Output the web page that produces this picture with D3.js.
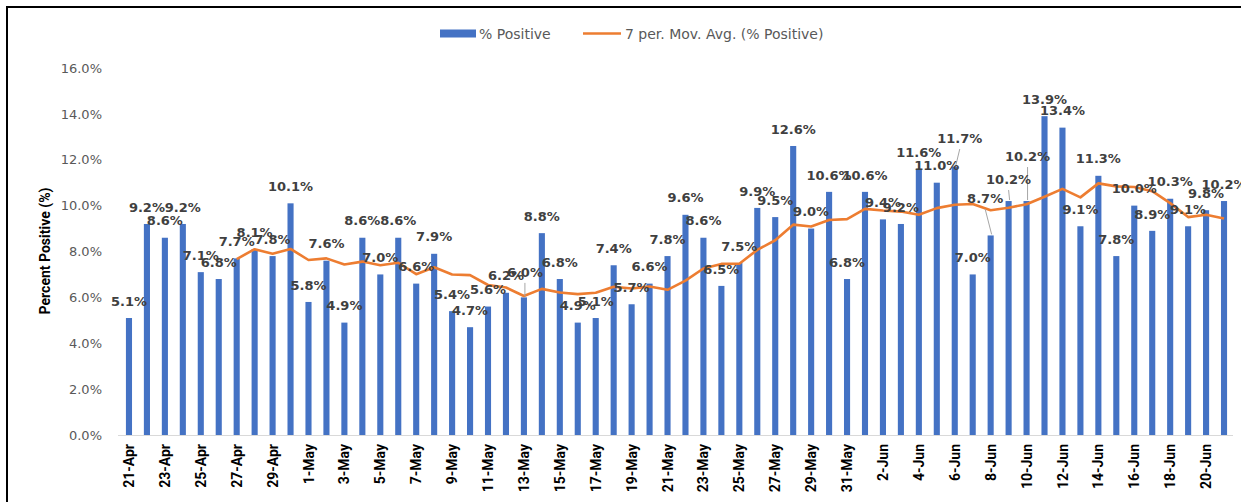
<!doctype html>
<html>
  <head>
    <meta charset="utf-8">
    <title>Percent Positive</title>
    <script src="https://cdnjs.cloudflare.com/ajax/libs/d3/7.8.5/d3.min.js"></script>
    <style>
      body { margin: 0; background: #fff; }
      svg { display: block; }
    </style>
  </head>
  <body>
    <div id="chart"></div>
    <script>
      // categories: one bar per day, 21-Apr to 21-Jun
      const dates = [
        '21-Apr','22-Apr','23-Apr','24-Apr','25-Apr','26-Apr','27-Apr','28-Apr','29-Apr','30-Apr',
        '1-May','2-May','3-May','4-May','5-May','6-May','7-May','8-May','9-May','10-May',
        '11-May','12-May','13-May','14-May','15-May','16-May','17-May','18-May','19-May','20-May',
        '21-May','22-May','23-May','24-May','25-May','26-May','27-May','28-May','29-May','30-May','31-May',
        '1-Jun','2-Jun','3-Jun','4-Jun','5-Jun','6-Jun','7-Jun','8-Jun','9-Jun','10-Jun',
        '11-Jun','12-Jun','13-Jun','14-Jun','15-Jun','16-Jun','17-Jun','18-Jun','19-Jun','20-Jun','21-Jun'
      ];

      // % positive
      const pctPositive = [
        5.1, 9.2, 8.6, 9.2, 7.1, 6.8, 7.7, 8.1, 7.8, 10.1,
        5.8, 7.6, 4.9, 8.6, 7.0, 8.6, 6.6, 7.9, 5.4, 4.7,
        5.6, 6.2, 6.0, 8.8, 6.8, 4.9, 5.1, 7.4, 5.7, 6.6,
        7.8, 9.6, 8.6, 6.5, 7.5, 9.9, 9.5, 12.6, 9.0, 10.6, 6.8,
        10.6, 9.4, 9.2, 11.6, 11.0, 11.7, 7.0, 8.7, 10.2, 10.2,
        13.9, 13.4, 9.1, 11.3, 7.8, 10.0, 8.9, 10.3, 9.1, 9.8, 10.2
      ];

      // 7 per. moving average (starts on 27-Apr)
      const movAvg = [
        null, null, null, null, null, null, 7.67, 8.10, 7.90, 8.11,
        7.63, 7.70, 7.43, 7.56, 7.40, 7.51, 7.01, 7.31, 7.00, 6.97,
        6.54, 6.43, 6.06, 6.37, 6.21, 6.14, 6.20, 6.46, 6.39, 6.47,
        6.33, 6.73, 7.26, 7.46, 7.47, 8.07, 8.49, 9.17, 9.09, 9.37, 9.41,
        9.86, 9.79, 9.74, 9.60, 9.89, 10.04, 10.07, 9.80, 9.91, 10.06,
        10.39, 10.73, 10.36, 10.97, 10.84, 10.81, 10.63, 10.11, 9.50, 9.60, 9.44
      ];

      const yTicks = [0, 2, 4, 6, 8, 10, 12, 14, 16];
      const seriesNames = ['% Positive', '7 per. Mov. Avg. (% Positive)'];

      const width = 1241, height = 502;
      const barColor = '#4472C4', lineColor = '#ED7D31';

      const svg = d3.select('#chart')
        .append('svg')
        .attr('width', width)
        .attr('height', height);

      // outer frame (runs off the right and bottom edges)
      svg.append('rect')
        .attr('x', 7).attr('y', 7)
        .attr('width', 1300).attr('height', 600)
        .attr('fill', '#fff')
        .attr('stroke', '#000')
        .attr('stroke-width', 2);

      const x = d3.scaleBand()
        .domain(dates)
        .range([120, 1233])
        .paddingInner(0.66)
        .paddingOuter(0.33);

      const y = d3.scaleLinear()
        .domain([0, 16])
        .range([435, 68]);

      const cx = d => x(d) + x.bandwidth() / 2;

      // y axis
      const yAxis = svg.append('g')
        .attr('transform', 'translate(102,0)')
        .call(d3.axisLeft(y).tickValues(yTicks).tickSize(0).tickPadding(0)
          .tickFormat(d => d.toFixed(1) + '%'));
      yAxis.select('.domain').remove();
      yAxis.selectAll('text')
        .attr('fill', '#595959')
        .style('font-family', 'DejaVu Sans, sans-serif')
        .style('font-size', '13px');

      svg.append('text')
        .attr('transform', 'translate(50,251) rotate(-90)')
        .attr('text-anchor', 'middle')
        .style('font-family', 'Roboto, sans-serif')
        .style('font-weight', 'bold')
        .style('font-size', '14px')
        .attr('fill', '#000')
        .text('Percent Positive (%)');

      // bars
      svg.append('g')
        .selectAll('rect')
        .data(pctPositive)
        .join('rect')
        .attr('x', (d, i) => x(dates[i]))
        .attr('y', d => y(d))
        .attr('width', x.bandwidth())
        .attr('height', d => y(0) - y(d))
        .attr('fill', barColor);

      // x axis
      const xAxis = svg.append('g')
        .attr('transform', `translate(0,${y(0)})`)
        .call(d3.axisBottom(x)
          .tickValues(dates.filter((d, i) => i % 2 === 0))
          .tickSize(0)
          .tickSizeOuter(0));
      xAxis.select('.domain')
        .attr('stroke', '#D9D9D9')
        .attr('stroke-width', 1.2)
        .attr('d', 'M118,0.5H1233');
      xAxis.selectAll('text')
        .attr('transform', 'rotate(-90)')
        .attr('x', -9)
        .attr('y', 0)
        .attr('dy', '0.36em')
        .attr('text-anchor', 'end')
        .attr('fill', '#000')
        .style('font-family', 'Roboto, sans-serif')
        .style('font-weight', 'bold')
        .style('font-size', '14px');

      // moving average line
      const line = d3.line()
        .defined(d => d != null)
        .x((d, i) => cx(dates[i]))
        .y(d => y(d));

      svg.append('path')
        .datum(movAvg)
        .attr('d', line)
        .attr('fill', 'none')
        .attr('stroke', lineColor)
        .attr('stroke-width', 2.6)
        .attr('stroke-linejoin', 'round');

      // data labels; a few were moved by hand in the original and carry leader lines
      const nudge = { 22: [1, -8.5], 46: [5, -11.6], 48: [-5.5, -20.4], 49: [0, -5], 50: [1, -28] };
      const labelPos = (d, i) => {
        const n = nudge[i] || [0, 0];
        return [cx(dates[i]) + n[0], y(d) - 17 + n[1]];
      };

      svg.append('g')
        .selectAll('line')
        .data(Object.keys(nudge).map(Number))
        .join('line')
        .attr('x1', i => labelPos(pctPositive[i], i)[0])
        .attr('y1', i => labelPos(pctPositive[i], i)[1] + 11)
        .attr('x2', i => cx(dates[i]) + 1)
        .attr('y2', i => y(pctPositive[i]) - 1)
        .attr('stroke', '#A6A6A6')
        .attr('stroke-width', 1);

      svg.append('g')
        .selectAll('text')
        .data(pctPositive)
        .join('text')
        .attr('x', (d, i) => labelPos(d, i)[0])
        .attr('y', (d, i) => labelPos(d, i)[1])
        .attr('dy', '0.36em')
        .attr('text-anchor', 'middle')
        .attr('fill', '#404040')
        .style('font-family', 'DejaVu Sans, sans-serif')
        .style('font-weight', 'bold')
        .style('font-size', '13px')
        .text(d => d.toFixed(1) + '%');

      // legend
      const legend = svg.append('g')
        .style('font-family', 'DejaVu Sans, sans-serif')
        .style('font-size', '14px')
        .attr('fill', '#595959');
      legend.append('rect')
        .attr('x', 440).attr('y', 29.5)
        .attr('width', 36).attr('height', 8)
        .attr('fill', barColor);
      legend.append('text')
        .attr('x', 479).attr('y', 39)
        .text(seriesNames[0]);
      legend.append('line')
        .attr('x1', 583).attr('x2', 621)
        .attr('y1', 33.5).attr('y2', 33.5)
        .attr('stroke', lineColor)
        .attr('stroke-width', 2.6);
      legend.append('text')
        .attr('x', 625).attr('y', 39)
        .text(seriesNames[1]);
    </script>
  </body>
</html>
